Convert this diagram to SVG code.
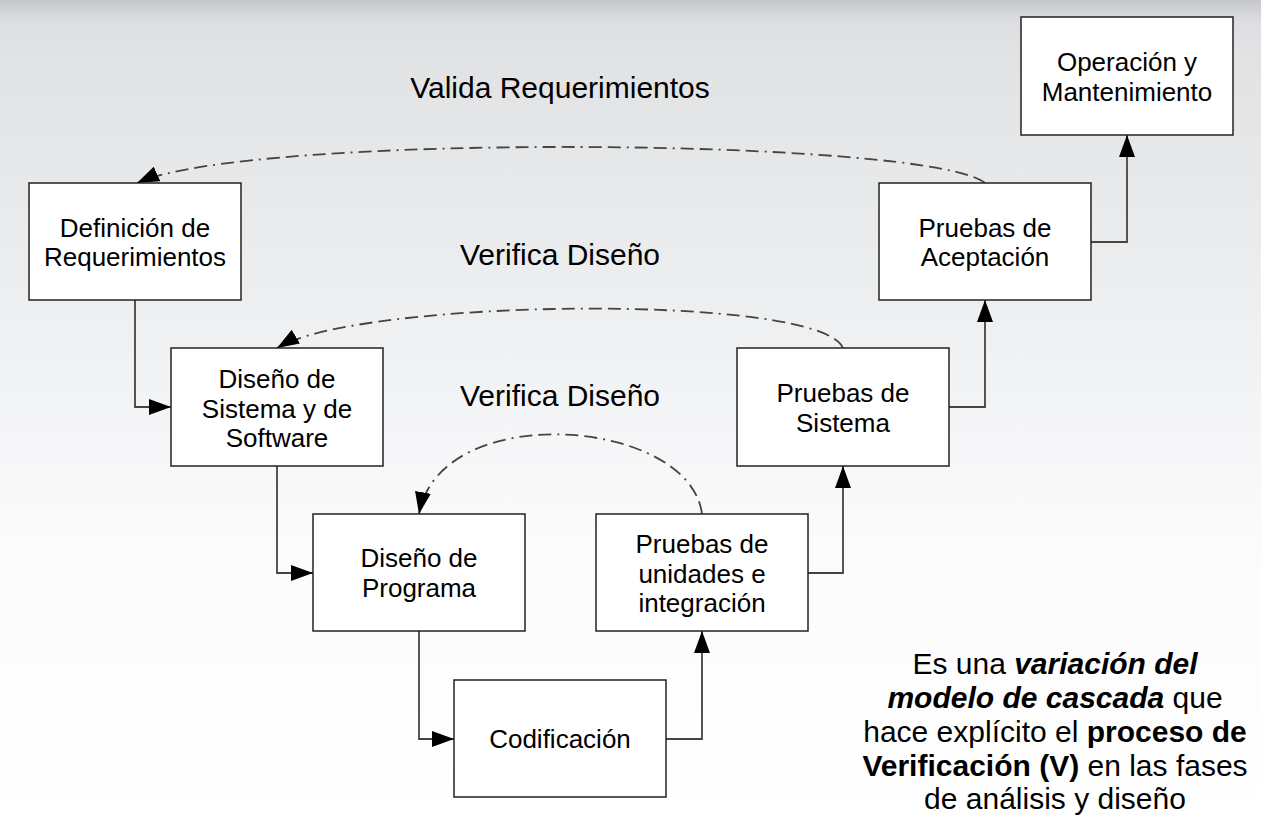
<svg xmlns="http://www.w3.org/2000/svg" width="1261" height="830" viewBox="0 0 1261 830">
<defs>
<linearGradient id="bg" x1="0" y1="0" x2="0" y2="1">
<stop offset="0" stop-color="#c5c7cd"/>
<stop offset="0.025" stop-color="#dcdee1"/>
<stop offset="0.06" stop-color="#e0e2e4"/>
<stop offset="0.35" stop-color="#eceef0"/>
<stop offset="0.65" stop-color="#fbfbfc"/>
<stop offset="1" stop-color="#ffffff"/>
</linearGradient>
<marker id="ah2" viewBox="0 0 22 16" refX="22" refY="8" markerWidth="22" markerHeight="16" markerUnits="userSpaceOnUse" orient="auto">
<path d="M0,0 L22,8 L0,16 z" fill="#000"/>
</marker>
</defs>
<style>
.box{fill:#fff;stroke:#222;stroke-width:1.5}
.t{font-family:"Liberation Sans",Arial,sans-serif;font-size:26px;fill:#000;text-anchor:middle}
.lbl{font-family:"Liberation Sans",Arial,sans-serif;font-size:30px;fill:#000;text-anchor:middle}
.note{font-family:"Liberation Sans",Arial,sans-serif;font-size:30px;fill:#000;text-anchor:middle}
.c{fill:none;stroke:#444;stroke-width:1.8;marker-end:url(#ah2)}
.d{fill:none;stroke:#444;stroke-width:1.8;stroke-dasharray:13 6 13 6 2 6;marker-end:url(#ah2)}
</style>
<rect x="0" y="0" width="1261" height="830" fill="url(#bg)"/>

<g id="connectors">
<path class="c" d="M135,300 V407 H171"/>
<path class="c" d="M277,466 V573 H313"/>
<path class="c" d="M419,631 V739 H454"/>
<path class="c" d="M666,739 H702 V631"/>
<path class="c" d="M808,573 H843 V466"/>
<path class="c" d="M949,407 H985 V300"/>
<path class="c" d="M1091,242 H1127 V135"/>
<path class="d" d="M985,183 C930,138 250,132 137,183"/>
<path class="d" d="M843,348 C820,293 360,298 277,348"/>
<path class="d" d="M702,514 C690,418 440,398 419,514"/>
</g>

<g id="label-valida"><text class="lbl" x="560" y="98">Valida Requerimientos</text></g>
<g id="label-verifica1"><text class="lbl" x="560" y="265">Verifica Diseño</text></g>
<g id="label-verifica2"><text class="lbl" x="560" y="406">Verifica Diseño</text></g>

<g id="n-operacion">
<rect class="box" x="1021" y="17" width="212" height="118"/>
<text class="t" x="1127" y="71">Operación y</text>
<text class="t" x="1127" y="101">Mantenimiento</text>
</g>
<g id="n-definicion">
<rect class="box" x="29" y="183" width="212" height="117"/>
<text class="t" x="135" y="237">Definición de</text>
<text class="t" x="135" y="266">Requerimientos</text>
</g>
<g id="n-aceptacion">
<rect class="box" x="879" y="183" width="212" height="117"/>
<text class="t" x="985" y="237">Pruebas de</text>
<text class="t" x="985" y="266">Aceptación</text>
</g>
<g id="n-sistema">
<rect class="box" x="171" y="348" width="212" height="118"/>
<text class="t" x="277" y="388">Diseño de</text>
<text class="t" x="277" y="418">Sistema y de</text>
<text class="t" x="277" y="447">Software</text>
</g>
<g id="n-pruebas-sistema">
<rect class="box" x="737" y="348" width="212" height="118"/>
<text class="t" x="843" y="402">Pruebas de</text>
<text class="t" x="843" y="432">Sistema</text>
</g>
<g id="n-programa">
<rect class="box" x="313" y="514" width="212" height="117"/>
<text class="t" x="419" y="567">Diseño de</text>
<text class="t" x="419" y="597">Programa</text>
</g>
<g id="n-unidades">
<rect class="box" x="596" y="514" width="212" height="117"/>
<text class="t" x="702" y="553">Pruebas de</text>
<text class="t" x="702" y="583">unidades e</text>
<text class="t" x="702" y="612">integración</text>
</g>
<g id="n-codificacion">
<rect class="box" x="454" y="680" width="212" height="117"/>
<text class="t" x="560" y="748">Codificación</text>
</g>

<g id="note">
<text class="note" x="1055" y="674">Es una <tspan font-weight="bold" font-style="italic">variación del</tspan></text>
<text class="note" x="1055" y="708"><tspan font-weight="bold" font-style="italic">modelo de cascada</tspan> que</text>
<text class="note" x="1055" y="742">hace explícito el <tspan font-weight="bold">proceso de</tspan></text>
<text class="note" x="1055" y="776"><tspan font-weight="bold">Verificación (V)</tspan> en las fases</text>
<text class="note" x="1055" y="809">de análisis y diseño</text>
</g>
</svg>
